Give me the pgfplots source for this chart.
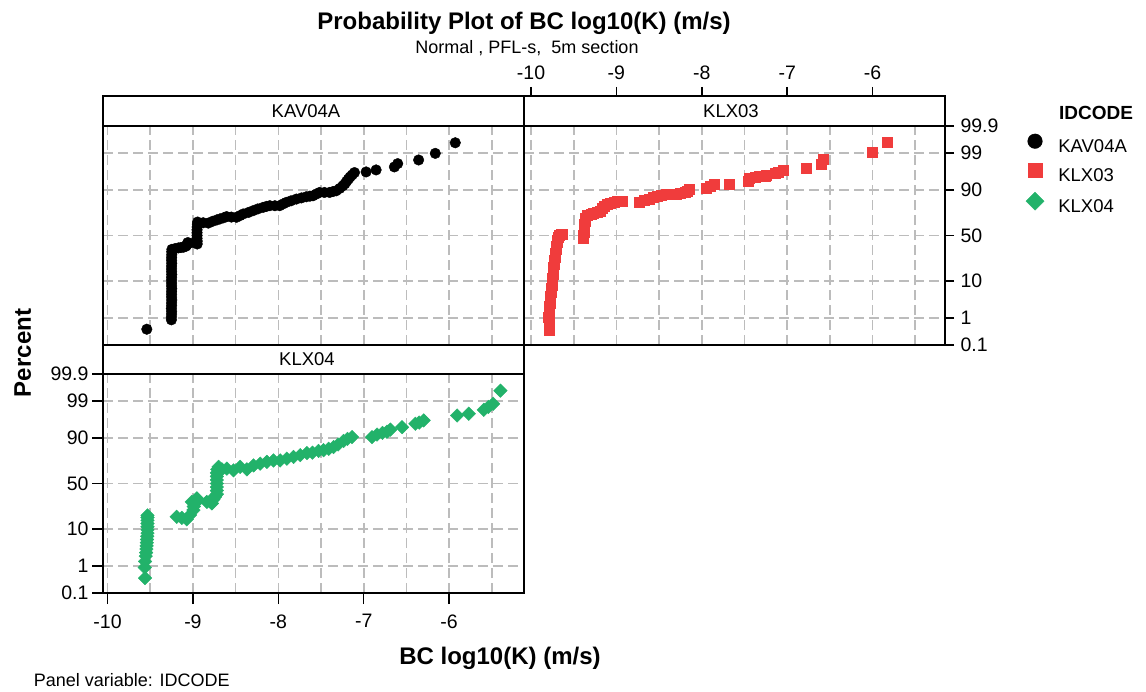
\documentclass[border=0pt]{standalone}
\usepackage{fontspec}
\setmainfont{Liberation Sans}
\usepackage{pgfplots}
\pgfplotsset{compat=1.18}
\definecolor{klxred}{RGB}{240,60,60}
\definecolor{klxgreen}{RGB}{34,178,106}
\definecolor{gridgray}{RGB}{188,188,188}
\newcommand{\fs}[1]{\fontsize{#1}{#1}\selectfont}

\pgfplotsset{
  panel/.style={
    scale only axis, width=421pt,
    ymin=-3.0902,
    xtick={-10,-9,-8,-7,-6}, xticklabels={-10,-9,-8,-7,-6},
    minor xtick={-9.5,-8.5,-7.5,-6.5,-5.5},
    ytick={-3.0902,-2.3263,-1.2816,0,1.2816,2.3263,3.0902},
    yticklabels={0.1,1,10,50,90,99,99.9},
    grid=both,
    major grid style={gridgray, line width=1.6pt, dash pattern=on 10pt off 5pt},
    minor grid style={gridgray, line width=1.6pt, dash pattern=on 10pt off 5pt},
    minor tick length=0pt,
    tick align=outside,
    major tick length=11pt,
    tick style={black, line width=1.4pt},
    axis line style={line width=2pt},
    tick label style={font=\fs{19.5}},
  }
}

\begin{document}
\begin{tikzpicture}
\path[use as bounding box] (0pt,0pt) rectangle (1146pt,691pt);

% ---------------- Panel KAV04A ----------------
\begin{axis}[panel, at={(103pt,346pt)}, anchor=south west, height=249pt,
  ymax=3.9368, xmin=-10.053, xmax=-5.123,
  xticklabels={}, yticklabels={}, tick style={draw=none}]
\addplot[only marks, mark=*, mark size=5.3pt, black] table {
-9.54 -2.645
-9.252 -2.38
-9.252 -2.30
-9.25 -2.22
-9.25 -2.14
-9.252 -2.06
-9.25 -1.98
-9.25 -1.90
-9.248 -1.82
-9.25 -1.74
-9.25 -1.66
-9.25 -1.58
-9.248 -1.50
-9.25 -1.42
-9.25 -1.34
-9.25 -1.26
-9.25 -1.18
-9.248 -1.10
-9.25 -1.02
-9.25 -0.94
-9.25 -0.86
-9.248 -0.78
-9.25 -0.70
-9.25 -0.62
-9.248 -0.54
-9.248 -0.46
-9.246 -0.39
-9.21 -0.37
-9.17 -0.35
-9.14 -0.34
-9.11 -0.33
-9.08 -0.30
-9.07 -0.25
-9.06 -0.20
-9.04 -0.22
-8.95 -0.24
-8.95 -0.16
-8.952 -0.08
-8.952 0.0
-8.952 0.08
-8.952 0.16
-8.95 0.24
-8.948 0.32
-8.945 0.38
-8.88 0.36
-8.82 0.35
-8.77 0.40
-8.72 0.44
-8.684 0.467
-8.64 0.50
-8.606 0.533
-8.55 0.52
-8.49 0.514
-8.45 0.56
-8.412 0.607
-8.35 0.65
-8.295 0.70
-8.24 0.75
-8.178 0.794
-8.14 0.82
-8.10 0.841
-8.04 0.84
-7.984 0.841
-7.945 0.89
-7.906 0.935
-7.85 0.98
-7.789 1.028
-7.73 1.06
-7.672 1.093
-7.63 1.11
-7.594 1.121
-7.555 1.17
-7.517 1.215
-7.46 1.215
-7.40 1.215
-7.36 1.24
-7.322 1.262
-7.28 1.33
-7.244 1.402
-7.22 1.46
-7.20 1.53
-7.18 1.59
-7.16 1.65
-7.135 1.71
-7.108 1.776
-6.972 1.794
-6.855 1.85
-6.641 1.935
-6.602 2.028
-6.357 2.131
-6.162 2.318
-5.928 2.617
};
\end{axis}

% ---------------- Panel KLX03 ----------------
\begin{axis}[panel, at={(524pt,346pt)}, anchor=south west, height=249pt,
  ymax=3.9368, xmin=-10.082, xmax=-5.152,
  xtick pos=right, ytick pos=right, xticklabel pos=right, yticklabel pos=right,
  major tick length=9pt,
  yticklabel style={xshift=3pt},
  xticklabel style={yshift=4pt},
  legend style={at={(1.1923,0.8478)}, anchor=north west, draw=none, fill=none,
    inner sep=0pt, outer sep=0pt, font=\fs{18.5}, row sep=6.8pt, column sep=14.25pt,
    nodes={inner sep=0pt, text height=13pt, text depth=4pt}},
  legend cell align=left,
  legend image post style={yshift=6.5pt}]
\addlegendimage{only marks, mark=*, mark size=7.3pt, black}
\addlegendentry{KAV04A}
\addlegendimage{only marks, mark=square*, mark size=7.3pt, klxred}
\addlegendentry{KLX03}
\addlegendimage{only marks, mark=square*, mark size=6.4pt, klxgreen, mark options={rotate=45}}
\addlegendentry{KLX04}
\addplot[forget plot, only marks, mark=square*, mark size=5pt, klxred] table {
-9.784 -2.686
-9.79 -2.42
-9.795 -2.30
-9.792 -2.20
-9.788 -2.10
-9.784 -2.00
-9.78 -1.90
-9.776 -1.80
-9.772 -1.70
-9.768 -1.60
-9.762 -1.50
-9.757 -1.40
-9.752 -1.30
-9.749 -1.20
-9.745 -1.10
-9.741 -1.00
-9.737 -0.90
-9.733 -0.80
-9.728 -0.70
-9.722 -0.60
-9.715 -0.50
-9.709 -0.40
-9.703 -0.30
-9.697 -0.20
-9.69 -0.12
-9.68 -0.05
-9.666 0.01
-9.65 0.04
-9.639 0.05
-9.384 -0.07
-9.384 0.01
-9.382 0.09
-9.38 0.17
-9.378 0.25
-9.375 0.33
-9.37 0.41
-9.36 0.49
-9.344 0.57
-9.30 0.61
-9.266 0.64
-9.23 0.66
-9.187 0.69
-9.17 0.76
-9.148 0.83
-9.11 0.87
-9.07 0.92
-9.03 0.95
-8.991 0.97
-8.96 0.975
-8.932 0.97
-8.736 0.952
-8.68 0.99
-8.618 1.037
-8.57 1.07
-8.52 1.112
-8.47 1.13
-8.422 1.159
-8.304 1.178
-8.25 1.20
-8.19 1.225
-8.167 1.25
-8.147 1.30
-7.951 1.348
-7.90 1.40
-7.853 1.442
-7.676 1.442
-7.46 1.536
-7.44 1.631
-7.38 1.65
-7.323 1.678
-7.26 1.678
-7.244 1.70
-7.146 1.772
-7.10 1.80
-7.048 1.838
-6.773 1.913
-6.597 2.026
-6.577 2.149
-6.008 2.337
-5.831 2.62
};
\end{axis}

% ---------------- Panel KLX04 ----------------
\begin{axis}[panel, at={(103pt,98pt)}, anchor=south west, height=248pt,
  ymax=3.9086, xmin=-10.053, xmax=-5.123,
  xtick pos=left, ytick pos=left,
  xticklabel style={yshift=-7pt}]
\addplot[only marks, mark=square*, mark size=4.8pt, klxgreen, mark options={rotate=45}] table {
-9.56 -2.669
-9.564 -2.369
-9.56 -2.20
-9.552 -2.05
-9.548 -1.95
-9.545 -1.85
-9.542 -1.76
-9.54 -1.67
-9.538 -1.58
-9.535 -1.49
-9.532 -1.40
-9.532 -1.31
-9.532 -1.22
-9.532 -1.13
-9.532 -1.04
-9.532 -0.96
-9.532 -0.90
-9.19 -0.94
-9.13 -0.97
-9.072 -1.01
-9.033 -0.89
-8.994 -0.75
-8.99 -0.65
-8.974 -0.56
-9.013 -0.52
-8.954 -0.42
-8.837 -0.52
-8.80 -0.50
-8.778 -0.56
-8.76 -0.45
-8.74 -0.376
-8.72 -0.30
-8.72 -0.20
-8.72 -0.10
-8.72 0.0
-8.72 0.10
-8.72 0.20
-8.72 0.30
-8.715 0.40
-8.70 0.47
-8.66 0.40
-8.603 0.42
-8.525 0.37
-8.447 0.47
-8.368 0.40
-8.29 0.51
-8.212 0.56
-8.134 0.61
-8.056 0.65
-7.978 0.65
-7.90 0.70
-7.822 0.75
-7.743 0.80
-7.665 0.86
-7.60 0.87
-7.529 0.92
-7.47 0.94
-7.41 0.98
-7.353 1.03
-7.30 1.10
-7.236 1.20
-7.19 1.26
-7.137 1.31
-6.903 1.31
-6.844 1.38
-6.78 1.43
-6.727 1.46
-6.688 1.52
-6.551 1.59
-6.395 1.685
-6.35 1.72
-6.298 1.78
-5.906 1.92
-5.77 1.97
-5.594 2.08
-5.54 2.16
-5.484 2.25
-5.399 2.62
};
\end{axis}

% ---------------- strips ----------------
\draw[line width=2pt, fill=white] (103pt,565pt) rectangle (524pt,595pt);
\node[anchor=base, font=\fs{18.5}, inner sep=0pt] at (306pt,573.5pt) {KAV04A};
\draw[line width=2pt, fill=white] (524pt,565pt) rectangle (945pt,595pt);
\node[anchor=base, font=\fs{18.5}, inner sep=0pt] at (731pt,573.5pt) {KLX03};
\draw[line width=2pt, fill=white] (103pt,317pt) rectangle (524pt,346pt);
\node[anchor=base, font=\fs{18.5}, inner sep=0pt] at (307pt,325pt) {KLX04};

% ---------------- texts ----------------
\node[anchor=base, font=\bfseries\fs{24}, inner sep=0pt] at (524pt,661.7pt) {Probability Plot of BC log10(K) (m/s)};
\node[anchor=base, font=\fs{18}, inner sep=0pt] at (527pt,637.7pt) {Normal , PFL-s,\ \ 5m section};
\node[anchor=base, rotate=90, font=\bfseries\fs{24}, inner sep=0pt] at (31pt,338pt) {Percent};
\node[anchor=base, font=\bfseries\fs{24}, inner sep=0pt] at (500pt,27pt) {BC log10(K) (m/s)};
\node[anchor=base west, font=\fs{18}, inner sep=0pt] at (33.6pt,4.5pt) {Panel variable: IDCODE};
\node[anchor=base west, font=\bfseries\fs{19}, inner sep=0pt] at (1059pt,571.7pt) {IDCODE};
\end{tikzpicture}
\end{document}
